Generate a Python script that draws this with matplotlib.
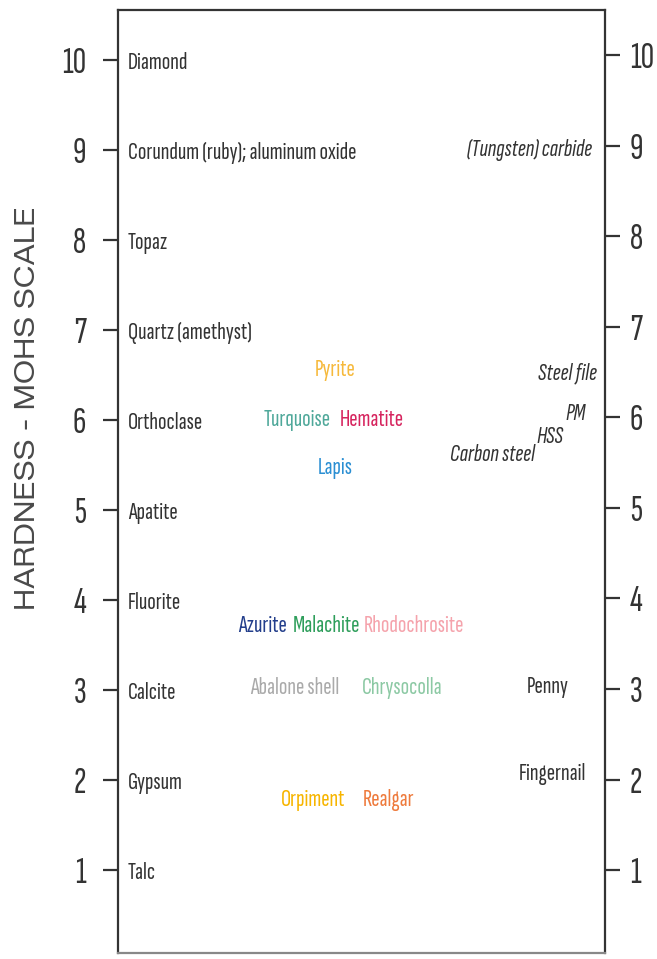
import matplotlib
matplotlib.use("Agg")
import matplotlib.pyplot as plt
import matplotlib.transforms as mtransforms

plt.rcParams['font.family'] = ['Sofia Sans Extra Condensed', 'DejaVu Sans']

# reference minerals of the Mohs scale (left column)
MOHS_MINERALS = ["Talc", "Gypsum", "Calcite", "Fluorite", "Apatite",
                 "Orthoclase", "Quartz (amethyst)", "Topaz",
                 "Corundum (ruby); aluminum oxide", "Diamond"]
MOHS_VALUES = [1, 2, 3, 4, 5, 6, 7, 8, 9, 10]

# gemstones / ores in the middle
GEM_NAMES = ["Pyrite", "Turquoise", "Hematite", "Lapis",
             "Azurite", "Malachite", "Rhodochrosite",
             "Abalone shell", "Chrysocolla",
             "Orpiment", "Realgar"]
GEM_HARDNESS = [6.56, 6.0, 6.0, 5.47,
                3.71, 3.71, 3.71,
                3.02, 3.02,
                1.78, 1.78]
GEM_COLORS = ["#F6B93B", "#4FA89A", "#D6245E", "#2B8FD3",
              "#233E8B", "#2E9E5B", "#F5A3AC",
              "#AAAAAA", "#8CC9A4",
              "#F7B500", "#EE7A3C"]
# horizontal placement (axes fraction), layout only
GEM_X = [0.446, 0.368, 0.522, 0.446,
         0.296, 0.427, 0.608,
         0.363, 0.583,
         0.400, 0.556]

# tools / everyday objects (right side)
TOOL_NAMES = ["(Tungsten) carbide", "Steel file", "Carbon steel"]
TOOL_HARDNESS = [9.0, 6.52, 5.61]
TOOL_X = [0.973, 0.984, 0.856]

HSS_HARDNESS = 5.81
OBJECT_NAMES = ["Penny", "Fingernail"]
OBJECT_HARDNESS = [3.04, 2.07]
OBJECT_X = [0.883, 0.893]

DARK = "#333333"
LABEL_SIZE = 18

fig = plt.figure(figsize=(6.57, 9.59), dpi=100)
ax = fig.add_axes([118 / 657, 1 - 953 / 959, 487 / 657, 943 / 959])
ax.set_xlim(0, 1)
ax.set_ylim(0.078, 10.56)

for side in ["left", "right", "top", "bottom"]:
    ax.spines[side].set_color(DARK)
    ax.spines[side].set_linewidth(1.6)
ax.spines["bottom"].set_color("#888888")

ax.set_xticks([])
ax.set_yticks(MOHS_VALUES)
ax.set_yticklabels([str(v) for v in MOHS_VALUES])
ax.tick_params(axis="y", left=True, right=False, labelleft=True,
               labelright=False, direction="out", length=11, width=1.6,
               color=DARK, labelcolor=DARK, labelsize=27, pad=12)

# right scale sits a touch higher in the original
ax2 = ax.twinx()
ax2.set_ylim(0.084, 10.5)
ax2.set_yticks(MOHS_VALUES)
ax2.set_yticklabels([str(v) for v in MOHS_VALUES])
ax2.tick_params(axis="y", right=True, labelright=True, direction="out",
                length=11, width=1.6, color=DARK, labelcolor=DARK,
                labelsize=27, pad=7)
for side in ["left", "right", "top", "bottom"]:
    ax2.spines[side].set_visible(False)

trans = mtransforms.blended_transform_factory(ax.transAxes, ax.transData)

for name, v in zip(MOHS_MINERALS, MOHS_VALUES):
    ax.text(0.0205, v - 0.03, name, transform=trans, ha="left", va="center",
            fontsize=LABEL_SIZE, color=DARK)

for name, v, c, x in zip(GEM_NAMES, GEM_HARDNESS, GEM_COLORS, GEM_X):
    ax.text(x, v, name, transform=trans, ha="center", va="center",
            fontsize=LABEL_SIZE, color=c)

for name, v, x in zip(TOOL_NAMES, TOOL_HARDNESS, TOOL_X):
    ax.text(x, v, name, transform=trans, ha="right", va="center",
            fontsize=LABEL_SIZE, color=DARK, style="italic")

ax.text(0.860, HSS_HARDNESS, "HSS", transform=trans, ha="left", va="center",
        fontsize=18, color=DARK, style="italic")
ax.text(0.918, HSS_HARDNESS + 0.26, "PM", transform=trans, ha="left",
        va="center", fontsize=18, color=DARK, style="italic")

for name, v, x in zip(OBJECT_NAMES, OBJECT_HARDNESS, OBJECT_X):
    ax.text(x, v, name, transform=trans, ha="center", va="center",
            fontsize=LABEL_SIZE, color=DARK)

fig.text(28 / 657, 1 - 408 / 959, "HARDNESS - MOHS SCALE", rotation=90,
         ha="center", va="center", fontsize=20.5, color="#4A4A4A",
         family=["Zalando Sans SemiExpanded", "DejaVu Sans"], weight="medium")

fig.savefig("out.png", dpi=100)
